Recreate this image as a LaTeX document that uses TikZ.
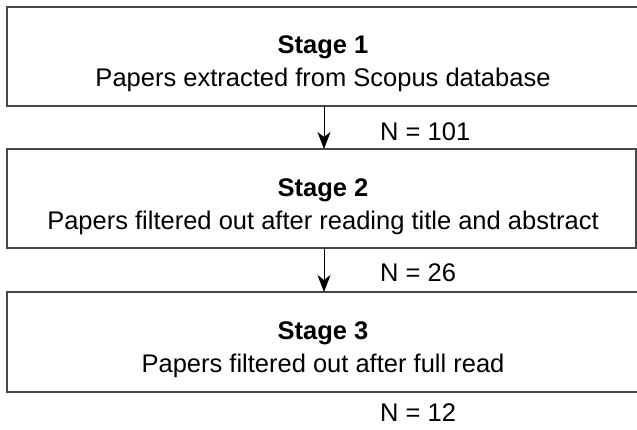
\documentclass[tikz,border=0pt]{standalone}
\usepackage{fontspec}
\setmainfont{Liberation Sans}
\usetikzlibrary{arrows.meta}
\begin{document}
\begin{tikzpicture}[x=1pt,y=-1pt,
  stagebox/.style={draw=black!72,line width=1.5pt},
  title/.style={font=\fontsize{25.5}{28}\selectfont\bfseries,anchor=center,inner sep=0pt},
  sub/.style={font=\fontsize{25.5}{28}\selectfont,anchor=center,inner sep=0pt},
  count/.style={font=\fontsize{25.5}{28}\selectfont,anchor=west,inner sep=0pt},
  flow/.style={draw=black,line width=0.8pt,-{Stealth[length=17pt,width=13pt,inset=5pt]}}]
\useasboundingbox (0,0) rectangle (637,429);
\draw[stagebox] (7,7) rectangle (645,106);
\draw[stagebox] (7,149) rectangle (636,248);
\draw[stagebox] (7,292) rectangle (645,392);
\coordinate (b1s) at (324,106);
\coordinate (b2n) at (324,149);
\coordinate (b2s) at (324,248);
\coordinate (b3n) at (324,292);
\node[title] (t1) at (323,47) {Stage 1};
\node[sub] (s1) at (323,80) {Papers extracted from Scopus database};
\node[title] (t2) at (323,190) {Stage 2};
\node[sub] (s2) at (323,223) {Papers filtered out after reading title and abstract};
\node[title] (t3) at (323,333) {Stage 3};
\node[sub] (s3) at (323,366) {Papers filtered out after full read};
\node[count] (n1) at (380,132) {N = 101};
\node[count] (n2) at (380,273) {N = 26};
\node[count] (n3) at (380,413) {N = 12};
\draw[flow] (b1s) -- (b2n);
\draw[flow] (b2s) -- (b3n);
\end{tikzpicture}
\end{document}
